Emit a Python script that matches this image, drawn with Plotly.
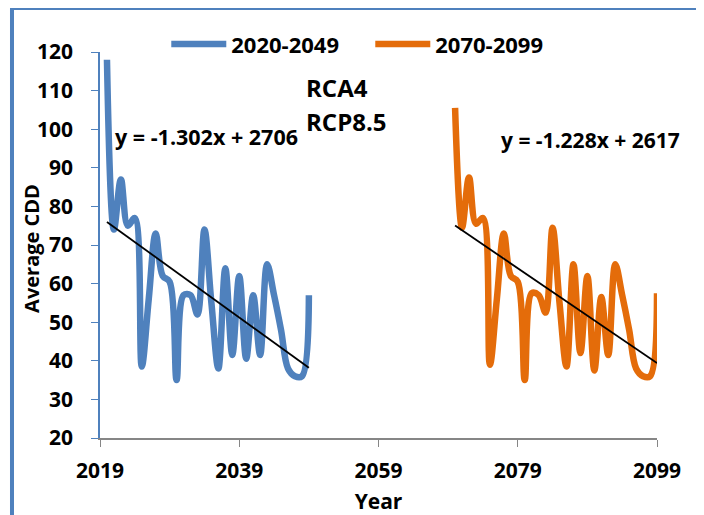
import plotly.graph_objects as go

years_near = list(range(2020, 2050))
years_far = list(range(2070, 2100))
cdd_near = [118, 74, 87, 75, 77, 38.5, 56, 73, 62, 60.5, 35, 57, 57, 52, 74, 55, 38, 64, 41.5, 62,
            40.5, 57, 41.5, 65, 57, 48, 38, 36, 36, 57]
cdd_far = [105.5, 74.5, 87.5, 75.5, 77, 39, 56, 73, 62, 60.5, 35, 57.5, 57, 52.5, 74.5, 55, 38.5, 65, 42, 62,
           37.5, 56.5, 41.5, 65, 57, 48, 38, 36, 36, 57.5]
trend_near = (-1.302, 2706)
trend_far = (-1.228, 2617)
x_ticks = [2019, 2039, 2059, 2079, 2099]
y_ticks = list(range(20, 121, 10))

BLUE = "#4F81BD"
ORANGE = "#E46C0A"
FONT = "Open Sans"

fig = go.Figure()
fig.add_trace(go.Scatter(x=years_near, y=cdd_near, mode="lines", name="<b>2020-2049</b>",
                         line=dict(color=BLUE, width=6.5, shape="spline", smoothing=1)))
fig.add_trace(go.Scatter(x=years_far, y=cdd_far, mode="lines", name="<b>2070-2099</b>",
                         line=dict(color=ORANGE, width=6.5, shape="spline", smoothing=1)))

for yrs, (m, b) in ((years_near, trend_near), (years_far, trend_far)):
    xs = [yrs[0], yrs[-1]]
    fig.add_trace(go.Scatter(x=xs, y=[m * v + b for v in xs], mode="lines", showlegend=False,
                             line=dict(color="black", width=1.8), hoverinfo="skip"))

fig.add_annotation(x=2020.9, y=98, xanchor="left", yanchor="middle", showarrow=False,
                   text="<b>y = -1.302x + 2706</b>", font=dict(size=21.5, color="black", family=FONT))
fig.add_annotation(x=2076.3, y=97.2, xanchor="left", yanchor="middle", showarrow=False,
                   text="<b>y = -1.228x + 2617</b>", font=dict(size=21, color="black", family=FONT))
fig.add_annotation(x=2048.3, y=110.7, xanchor="left", yanchor="middle", showarrow=False,
                   text="<b>RCA4</b>", font=dict(size=24, color="black", family=FONT))
fig.add_annotation(x=2048.3, y=101.9, xanchor="left", yanchor="middle", showarrow=False,
                   text="<b>RCP8.5</b>", font=dict(size=24, color="black", family=FONT))
fig.add_annotation(xref="paper", yref="paper", x=-0.122, y=0.49, xanchor="center", yanchor="middle",
                   showarrow=False, textangle=-90,
                   text="<b>Average CDD</b>", font=dict(size=20, color="black", family=FONT))

fig.add_shape(type="rect", xref="paper", yref="paper", x0=-0.158, x1=1.076, y0=-0.25, y1=1.114,
              line=dict(color=BLUE, width=4), fillcolor="rgba(0,0,0,0)", layer="above")

fig.update_layout(
    width=704, height=515,
    margin=dict(l=92, r=55, t=44, b=85),
    paper_bgcolor="white", plot_bgcolor="white",
    font=dict(family=FONT, color="black"),
    legend=dict(orientation="h", x=0.119, y=1.02, xanchor="left", yanchor="middle",
                font=dict(size=22, family=FONT, color="black"), bgcolor="rgba(0,0,0,0)",
                itemwidth=55, traceorder="normal", entrywidth=134, entrywidthmode="pixels"),
    xaxis=dict(range=[2019, 2099], tickvals=x_ticks, ticktext=[f"<b>{t}</b>" for t in x_ticks],
               showgrid=False, zeroline=False, showline=True, linecolor="#868686", linewidth=1.5,
               ticks="outside", ticklen=7, tickcolor="#868686", tickfont=dict(size=21, family=FONT),
               ticklabelstandoff=6,
               title=dict(text="<b>Year</b>", font=dict(size=21, family=FONT), standoff=11)),
    yaxis=dict(range=[20, 120], tickvals=y_ticks, ticktext=[f"<b>{t}</b>" for t in y_ticks],
               showgrid=False, zeroline=False, showline=True, linecolor=BLUE, linewidth=1.5,
               ticks="outside", ticklen=7, tickcolor=BLUE, tickfont=dict(size=21, family=FONT),
               ticklabelstandoff=14),
)

fig.write_html("out.html")
